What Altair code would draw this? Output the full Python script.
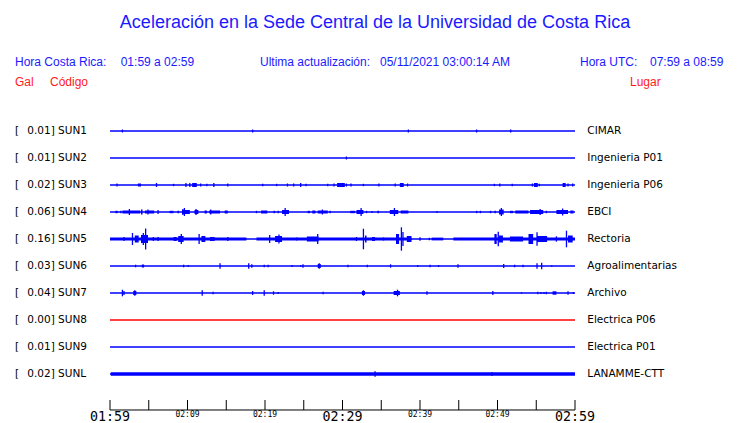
import altair as alt
import pandas as pd

# ---------------- data ----------------
TITLE = "Aceleración en la Sede Central de la Universidad de Costa Rica"
STATIONS = ["SUN1", "SUN2", "SUN3", "SUN4", "SUN5", "SUN6", "SUN7", "SUN8", "SUN9", "SUNL"]
PEAKS = ["0.01", "0.01", "0.02", "0.06", "0.16", "0.03", "0.04", "0.00", "0.01", "0.02"]
PLACES = ["CIMAR", "Ingenieria P01", "Ingenieria P06", "EBCI", "Rectoria",
          "Agroalimentarias", "Archivo", "Electrica P06", "Electrica P01", "LANAMME-CTT"]

# minutes after 01:59 ; amplitude (display units)
SUN1_SPIKES = [(1.6, 1.5), (18.4, 1.5), (38.5, 1.5), (47.3, 1.5), (51.7, 1.5)]
SUN2_SPIKES = [(30.5, 1.5)]
SUN3_SPIKES = [(0.9, 1.5), (6.0, 2), (8.2, 1.2), (9.8, 2), (10.3, 2), (11.7, 1.5), (12.5, 1.2), (13.4, 2),
               (15.2, 1.5), (19.7, 1.2), (21.5, 1.2), (22.9, 1.5), (23.7, 1.5), (24.6, 2), (25.3, 1.2),
               (28.1, 1.2), (28.9, 1.5), (30.5, 1.5), (31.1, 1.5), (32.7, 1.2), (34.7, 1.5), (36.8, 1.5),
               (38.4, 1.5), (49.6, 1.2), (50.3, 1.5), (51.9, 1.2), (54.5, 1.5), (55.4, 1.2), (59.1, 1.5),
               (59.7, 1.5)]
SUN3_BLOCKS = [(3.6, 4.0, 1.5), (10.6, 11.2, 2), (29.3, 30.3, 2), (37.4, 37.9, 2), (54.7, 55.2, 2),
               (58.4, 58.8, 2)]
SUN4_SPIKES = [(1.4, 1.2), (2.5, 3), (4.9, 2.5), (6.2, 2), (8.1, 1.2), (9.4, 3), (9.6, 4), (11.1, 3),
               (13.0, 2.5), (18.9, 1.2), (21.7, 1.2), (22.6, 4), (27.4, 2.5), (28.4, 1.2), (32.4, 4),
               (33.1, 1.2), (33.8, 1), (36.7, 4), (42.2, 1), (47.3, 1.2), (47.8, 1.2), (49.1, 1.2),
               (49.7, 1.2), (50.5, 4), (55.5, 3), (56.3, 1.2), (58.4, 3.5)]
SUN4_BLOCKS = [(0.7, 1.0, 1.2), (1.6, 3.9, 1.5), (4.0, 4.2, 2.5), (4.5, 5.7, 1.5), (7.7, 8.0, 1.2),
               (8.7, 8.9, 1.2), (9.3, 10.3, 2), (10.9, 11.4, 2), (12.2, 12.5, 1.5), (12.8, 14.2, 1.5),
               (14.8, 15.2, 1.5), (19.5, 20.3, 1.5), (21.1, 21.3, 1.2), (22.2, 23.1, 2), (25.5, 25.8, 1.2),
               (26.1, 26.5, 1.5), (26.8, 28.1, 1.5), (31.0, 31.6, 1.2), (31.8, 32.7, 2), (34.5, 34.7, 1.2),
               (36.1, 37.2, 2), (37.5, 38.5, 1.5), (50.2, 50.8, 2.5), (51.6, 52.0, 1.2), (52.3, 54.0, 1.5),
               (54.2, 55.9, 2), (57.6, 59.1, 2), (59.4, 59.8, 1.5)]
SUN5_BAND = [(0.0, 17.6, 1.4), (18.9, 38.9, 1.4), (41.5, 43.0, 1.4), (44.3, 60.0, 1.4)]
SUN5_SPIKES = [(1.8, 2), (2.9, 6), (4.3, 6), (4.6, 10.5), (5.6, 2), (6.2, 2), (9.2, 5), (11.5, 5),
               (15.2, 2), (20.6, 4), (21.8, 4.5), (24.1, 1.5), (26.8, 5), (31.8, 2), (32.7, 10.3),
               (35.3, 1.5), (37.6, 11.7), (37.8, 7), (40.0, 1.7), (41.2, 1.2), (50.1, 7.3), (55.1, 6.7),
               (57.6, 2.7), (58.9, 8.3)]
SUN5_BLOCKS = [(3.2, 3.7, 3.5), (4.0, 4.9, 4), (8.2, 8.6, 2), (8.8, 9.5, 3), (11.8, 12.3, 3),
               (12.9, 13.5, 2), (21.3, 22.2, 3), (25.4, 26.9, 2.5), (32.9, 33.1, 3.5), (33.8, 34.2, 2),
               (36.9, 37.3, 5), (38.3, 38.9, 3), (49.6, 49.9, 5), (50.2, 50.7, 3.5), (51.6, 53.3, 2.5),
               (54.0, 54.6, 5), (55.1, 56.4, 3), (59.1, 59.7, 3.5)]
SUN6_SPIKES = [(3.3, 1.3), (9.5, 1.3), (10.1, 1), (14.2, 2.7), (17.9, 2.7), (18.3, 1.7), (19.9, 1.3),
               (20.4, 1.3), (23.5, 1), (24.6, 0.8), (24.9, 1.7), (27.0, 2.7), (30.7, 1.3), (33.2, 1.3),
               (36.2, 1.7), (39.7, 1), (41.3, 1.3), (42.4, 1), (44.9, 1.7), (50.8, 2), (52.2, 1.3),
               (53.3, 1.3), (55.1, 2.7), (55.7, 3.3), (57.0, 0.7)]
SUN6_BLOCKS = [(4.1, 4.4, 1.5), (26.8, 27.2, 2)]
SUN7_SPIKES = [(1.6, 3.3), (1.8, 2), (3.2, 2.7), (11.9, 2.7), (13.3, 1.3), (18.4, 2), (19.9, 2.7),
               (21.1, 1.7), (21.7, 1), (27.5, 1.3), (32.7, 2.7), (37.1, 3.3), (40.9, 1.7), (49.4, 2),
               (53.1, 0.7), (55.2, 1.3), (55.6, 1), (56.0, 1), (56.3, 1.3), (59.1, 1.7), (59.8, 1)]
SUN7_BLOCKS = [(3.0, 3.4, 2), (32.5, 32.9, 2), (36.6, 37.4, 2), (57.1, 57.6, 1.7)]
SUNL_BAND = [(0.1, 60.0, 1.7)]
SUNL_SPIKES = [(34.2, 2.7), (49.3, 2)]

TICK_MINUTES = [0, 5, 10, 15, 20, 25, 30, 35, 40, 45, 50, 55, 60]
TICK_LABEL_MINUTES = [0, 10, 20, 30, 40, 50, 60]
TICK_LABELS = ["01:59", "02:09", "02:19", "02:29", "02:39", "02:49", "02:59"]
MAJOR_LABELS = ["01:59", "02:29", "02:59"]

# ---------------- styling ----------------
BLUE = "#0000ff"
TXT_BLUE = "#1a1aff"
RED = "#ff1a1a"
TRACE_RED = "#ff0000"
AMP_UNIT = 27.0  # display units per row spacing
AXIS_ROW, TICK_TOP_ROW = 10.333, 9.963
MINOR_LABEL_ROW, MAJOR_LABEL_ROW = 10.6, 10.74
DY = 1  # vertical offset

spikes = {"SUN1": SUN1_SPIKES, "SUN2": SUN2_SPIKES, "SUN3": SUN3_SPIKES, "SUN4": SUN4_SPIKES,
          "SUN5": SUN5_SPIKES, "SUN6": SUN6_SPIKES, "SUN7": SUN7_SPIKES, "SUNL": SUNL_SPIKES}
blocks = {"SUN3": SUN3_BLOCKS, "SUN4": SUN4_BLOCKS, "SUN5": SUN5_BLOCKS + SUN5_BAND,
          "SUN6": SUN6_BLOCKS, "SUN7": SUN7_BLOCKS, "SUNL": SUNL_BAND}

def color_of(st):
    return TRACE_RED if st == "SUN8" else BLUE

base_rows, spike_rows, block_rows = [], [], []
for i, st in enumerate(STATIONS):
    base_rows.append({"row": i, "t0": 0, "t1": 60, "c": color_of(st)})
    for t, a in spikes.get(st, []):
        spike_rows.append({"t": t, "lo": i - a / AMP_UNIT, "hi": i + a / AMP_UNIT, "c": color_of(st)})
    for t0, t1, a in blocks.get(st, []):
        block_rows.append({"t0": t0, "t1": t1, "lo": i - a / AMP_UNIT, "hi": i + a / AMP_UNIT, "c": color_of(st)})

xs = alt.Scale(domain=[0, 60], range=[102, 567], nice=False, zero=False)
ys = alt.Scale(domain=[0, 9], range=[122 + DY, 365 + DY], nice=False, zero=False)
col = alt.Color("c:N", scale=None)

baselines = alt.Chart(pd.DataFrame(base_rows)).mark_rule(strokeWidth=1.3).encode(
    x=alt.X("t0:Q", scale=xs, axis=None), x2="t1:Q",
    y=alt.Y("row:Q", scale=ys, axis=None), color=col)
rects = alt.Chart(pd.DataFrame(block_rows)).mark_rect().encode(
    x=alt.X("t0:Q", scale=xs, axis=None), x2="t1:Q",
    y=alt.Y("lo:Q", scale=ys, axis=None), y2="hi:Q", color=col)
rules = alt.Chart(pd.DataFrame(spike_rows)).mark_rule(strokeWidth=1.3).encode(
    x=alt.X("t:Q", scale=xs, axis=None),
    y=alt.Y("lo:Q", scale=ys, axis=None), y2="hi:Q", color=col)

lab_df = pd.DataFrame({"row": list(range(len(STATIONS))),
                       "br": ["["] * len(STATIONS),
                       "lab": [f"{p}] {s}" for p, s in zip(PEAKS, STATIONS)],
                       "place": PLACES})
lab_font = dict(font="DejaVu Sans", fontSize=10.5, color="black", baseline="middle", align="left")
lab1 = alt.Chart(lab_df).mark_text(**lab_font).encode(
    x=alt.value(7), y=alt.Y("row:Q", scale=ys, axis=None), text="br:N")
lab2 = alt.Chart(lab_df).mark_text(**lab_font).encode(
    x=alt.value(19.3), y=alt.Y("row:Q", scale=ys, axis=None), text="lab:N")
lab3 = alt.Chart(lab_df).mark_text(**lab_font).encode(
    x=alt.value(579.3), y=alt.Y("row:Q", scale=ys, axis=None), text="place:N")

# axis
axis_line = alt.Chart(pd.DataFrame({"t0": [0], "t1": [60], "r": [AXIS_ROW]})).mark_rule(
    color="black", strokeWidth=1).encode(
    x=alt.X("t0:Q", scale=xs, axis=None), x2="t1:Q", y=alt.Y("r:Q", scale=ys, axis=None))
ticks = alt.Chart(pd.DataFrame({"t": TICK_MINUTES, "a": TICK_TOP_ROW, "b": AXIS_ROW})).mark_rule(
    color="black", strokeWidth=1).encode(
    x=alt.X("t:Q", scale=xs, axis=None), y=alt.Y("a:Q", scale=ys, axis=None), y2="b:Q")
tl = pd.DataFrame({"t": TICK_LABEL_MINUTES, "lab": TICK_LABELS})
tl["major"] = tl["lab"].isin(MAJOR_LABELS)
tl["r"] = [MAJOR_LABEL_ROW if m else MINOR_LABEL_ROW for m in tl["major"]]
major_txt = alt.Chart(tl[tl["major"]]).mark_text(
    font="DejaVu Sans Mono", fontSize=13.3, color="black", align="center", baseline="alphabetic").encode(
    x=alt.X("t:Q", scale=xs, axis=None), y=alt.Y("r:Q", scale=ys, axis=None), text="lab:N")
minor_txt = alt.Chart(tl[~tl["major"]]).mark_text(
    font="DejaVu Sans Mono", fontSize=8, color="black", align="center", baseline="alphabetic").encode(
    x=alt.X("t:Q", scale=xs, axis=None), y=alt.Y("r:Q", scale=ys, axis=None), text="lab:N")

def txt(s, x, y, size, color, align="left"):
    return alt.Chart(pd.DataFrame({"s": [s]})).mark_text(
        font="Liberation Sans", fontSize=size, color=color, align=align, baseline="middle").encode(
        text="s:N", x=alt.value(x), y=alt.value(y + DY))

headers = [
    txt(TITLE, 367, 14, 18, TXT_BLUE, "center"),
    txt("Hora Costa Rica:", 7, 53, 12, TXT_BLUE),
    txt("01:59 a 02:59", 112.7, 53, 12, TXT_BLUE),
    txt("Ultima actualización:", 252, 53, 12, TXT_BLUE),
    txt("05/11/2021 03:00:14 AM", 372, 53, 12, TXT_BLUE),
    txt("Hora UTC:", 572, 53, 12, TXT_BLUE),
    txt("07:59 a 08:59", 642, 53, 12, TXT_BLUE),
    txt("Gal", 7, 73, 12, RED),
    txt("Código", 42, 73, 12, RED),
    txt("Lugar", 622, 73, 12, RED),
]

chart = alt.layer(baselines, rects, rules, lab1, lab2, lab3, axis_line, ticks, major_txt, minor_txt,
                  *headers).properties(
    width=724, height=415, autosize=alt.AutoSizeParams(type="none"), padding=0,
    background="white").configure_view(stroke=None)

chart.save("out.html", embed_options={"renderer": "svg", "actions": False})
